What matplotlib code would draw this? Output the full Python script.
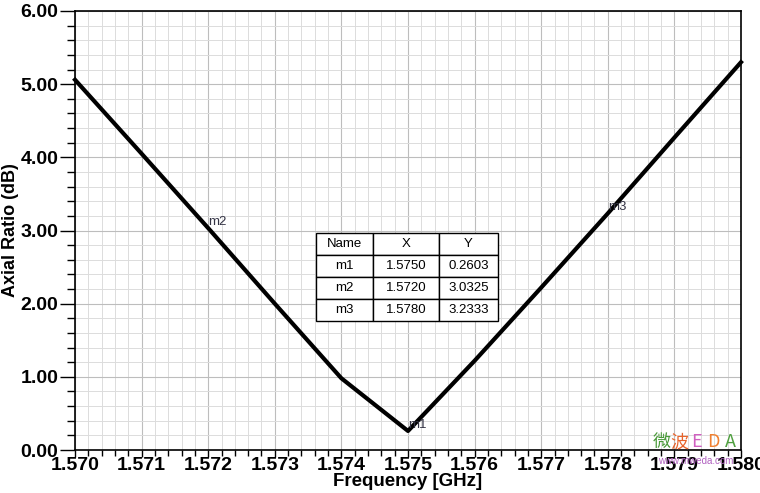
import matplotlib.pyplot as plt
import numpy as np
from matplotlib.ticker import MultipleLocator, FormatStrFormatter

plt.rcParams['font.family'] = ['Liberation Sans', 'DejaVu Sans']

freq = [1.570, 1.571, 1.572, 1.573, 1.574, 1.575, 1.576, 1.577, 1.578, 1.579, 1.580]
axial_ratio = [5.06, 4.05, 3.0325, 2.00, 0.98, 0.2603, 1.22, 2.22, 3.2333, 4.27, 5.30]

marker_names = ['m1', 'm2', 'm3']
marker_x = [1.5750, 1.5720, 1.5780]
marker_y = [0.2603, 3.0325, 3.2333]

fig = plt.figure(figsize=(7.6, 4.93), dpi=100)
ax = fig.add_axes([0.0987, 0.0872, 0.8763, 0.8905])

ax.plot(freq, axial_ratio, color='black', lw=3, solid_joinstyle='round', zorder=3, clip_on=False)

ax.set_xlim(1.570, 1.580)
ax.set_ylim(0, 6)
ax.xaxis.set_major_locator(MultipleLocator(0.001))
ax.xaxis.set_minor_locator(MultipleLocator(0.0002))
ax.yaxis.set_major_locator(MultipleLocator(1.0))
ax.yaxis.set_minor_locator(MultipleLocator(0.2))
ax.xaxis.set_major_formatter(FormatStrFormatter('%.3f'))
ax.yaxis.set_major_formatter(FormatStrFormatter('%.2f'))

ax.grid(which='major', color='#bdbdbd', lw=0.8)
ax.grid(which='minor', color='#dcdcdc', lw=0.7)
ax.set_axisbelow(True)

ax.tick_params(axis='x', which='major', length=5, width=1, labelsize=14, pad=0)
ax.tick_params(axis='x', which='minor', length=4, width=1)
ax.tick_params(axis='y', which='major', length=11, width=1, labelsize=14, pad=1)
ax.tick_params(axis='y', which='minor', length=6, width=1)
for lab in ax.get_xticklabels() + ax.get_yticklabels():
    lab.set_fontweight('bold')
for sp in ax.spines.values():
    sp.set_linewidth(1.2)

ax.set_xlabel('Frequency [GHz]', fontsize=13.5, fontweight='bold', labelpad=-1)
ax.set_ylabel('Axial Ratio (dB)', fontsize=13, fontweight='bold', labelpad=1)

for name, mx, my in zip(marker_names, marker_x, marker_y):
    ax.annotate(name, (mx, my), xytext=(0, 0), textcoords='offset points',
                fontsize=9.5, color='#333344', ha='left', va='bottom', zorder=4)

cell_text = [[n, '%.4f' % x, '%.4f' % y] for n, x, y in zip(marker_names, marker_x, marker_y)]
tbl = ax.table(cellText=cell_text, colLabels=['Name', 'X', 'Y'],
               cellLoc='center', bbox=[0.362, 0.294, 0.273, 0.200], zorder=5)
tbl.auto_set_font_size(False)
tbl.set_fontsize(9.5)
for (r, c), cell in tbl.get_celld().items():
    cell.set_edgecolor('black')
    cell.set_linewidth(1)
    cell.set_facecolor('white')
    cell.set_width([0.0856, 0.0991, 0.0886][c])

# watermark
wm_chars = ['微', '波', 'E', 'D', 'A']
wm_colors = ['#4a9a3a', '#e8642c', '#d060c0', '#f08030', '#50a040']
for i, (ch, col) in enumerate(zip(wm_chars, wm_colors)):
    fig.text(0.871 + i * 0.0225, 0.085, ch, color=col, fontsize=13,
             family=['Noto Sans CJK SC', 'DejaVu Sans'], ha='center', va='bottom')
fig.text(0.915, 0.054, 'www.mweda.com', color='#b060c0', fontsize=7, ha='center', va='bottom')

fig.savefig('out.png', dpi=100)
